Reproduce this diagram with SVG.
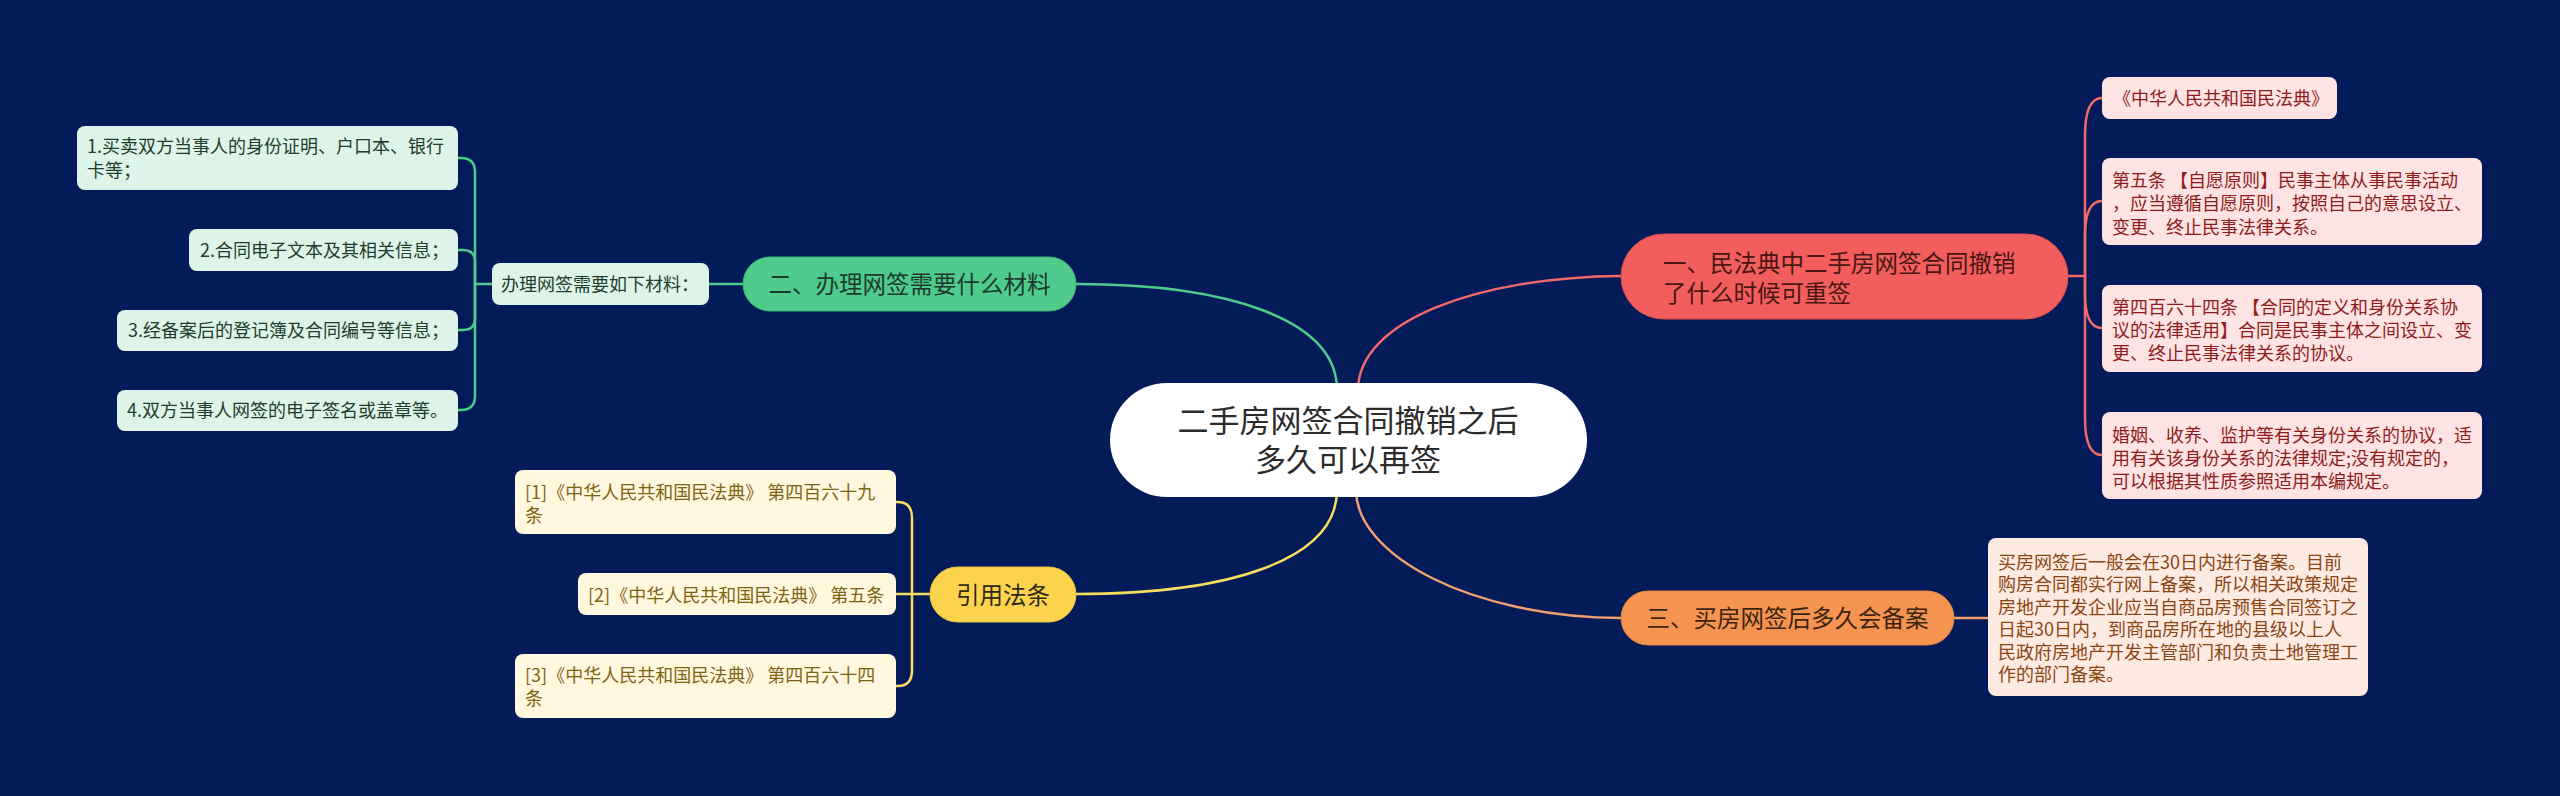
<svg xmlns="http://www.w3.org/2000/svg" width="2560" height="796" viewBox="0 0 2560 796">
<style>
text{font-family:"Noto Sans CJK SC","Noto Sans",sans-serif;}
.lf{font-size:18px;}
.br{font-size:23.5px;}
.c{fill:none;stroke-width:2.5;}
.cg{stroke:#4fcb8b;}
.cr{stroke:#f2696a;}
.co{stroke:#f0a070;}
.cy{stroke:#f7dc5f;}
.gl{fill:#dcf5e8;}
.gt{fill:#1f3d2e;}
.rl{fill:#fde3e3;}
.rt{fill:#8e1c1c;}
.ol{fill:#fdebe1;}
.ot{fill:#8b4513;}
.yl{fill:#fff7de;}
.yt{fill:#7d6414;}
</style>
<rect width="2560" height="796" fill="#031c59"/>
<g id="connectors">
<path class="c cg" d="M1076,284 C1230,284 1337,320 1337,390"/>
<path class="c cr" d="M1358,390 C1358,320 1480,277 1621,276"/>
<path class="c cy" d="M1337,490 C1337,560 1230,594 1076,594"/>
<path class="c co" d="M1356,490 C1356,555 1470,617 1621,618"/>
<path class="c cg" d="M743,284 H709"/>
<path class="c cg" d="M492,284 H475 V172 Q475,158 461,158 H458"/>
<path class="c cg" d="M475,284 V262 Q475,250 463,250 H458"/>
<path class="c cg" d="M475,284 V318 Q475,330 463,330 H458"/>
<path class="c cg" d="M475,284 V396 Q475,410 461,410 H458"/>
<path class="c cr" d="M2068,276 H2085 V136 Q2085,98 2102,98"/>
<path class="c cr" d="M2085,276 V236 Q2085,201 2102,201"/>
<path class="c cr" d="M2085,276 V294 Q2085,328 2102,328"/>
<path class="c cr" d="M2085,276 V418 Q2085,455 2102,455"/>
<path class="c co" d="M1954,618 H1988"/>
<path class="c cy" d="M930,594 H896"/>
<path class="c cy" d="M912,594 V518 Q912,502 898,502 H896"/>
<path class="c cy" d="M912,594 V670 Q912,686 898,686 H896"/>
</g>
<g id="center">
<rect x="1110" y="383" width="477" height="114" rx="57" fill="#ffffff"/>
<text font-size="31" fill="#2b2b2b" text-anchor="middle"><tspan x="1348" y="432">二手房网签合同撤销之后</tspan><tspan x="1348" y="471">多久可以再签</tspan></text>
</g>
<g id="n-green">
<rect x="743" y="257" width="333" height="54" rx="27" fill="#4fcb8b" stroke="#3db879" stroke-width="1"/>
<text class="br" x="909.5" y="293" fill="#1d3a2b" text-anchor="middle">二、办理网签需要什么材料</text>
</g>
<g id="g-mid">
<rect class="gl" x="492" y="263" width="217" height="42" rx="8"/>
<text class="lf gt" x="501" y="290.5">办理网签需要如下材料：</text>
</g>
<g id="g1">
<rect class="gl" x="77" y="126" width="381" height="64" rx="8"/>
<text class="lf gt" x="87" y="153">1.买卖双方当事人的身份证明、户口本、银行</text>
<text class="lf gt" x="87" y="177">卡等；</text>
</g>
<g id="g2">
<rect class="gl" x="189" y="229" width="269" height="42" rx="8"/>
<text class="lf gt" x="200" y="256.5">2.合同电子文本及其相关信息；</text>
</g>
<g id="g3">
<rect class="gl" x="117" y="310" width="341" height="41" rx="8"/>
<text class="lf gt" x="128" y="337">3.经备案后的登记簿及合同编号等信息；</text>
</g>
<g id="g4">
<rect class="gl" x="117" y="390" width="341" height="41" rx="8"/>
<text class="lf gt" x="127" y="417">4.双方当事人网签的电子签名或盖章等。</text>
</g>
<g id="n-red">
<rect x="1621" y="234" width="447" height="85" rx="42.5" fill="#f25d5d" stroke="#e04e4e" stroke-width="1"/>
<text class="br" x="1663" y="272" fill="#4a1515">一、民法典中二手房网签合同撤销</text>
<text class="br" x="1663" y="302" fill="#4a1515">了什么时候可重签</text>
</g>
<g id="r1">
<rect class="rl" x="2102" y="77" width="235" height="42" rx="8"/>
<text class="lf rt" x="2113" y="105">《中华人民共和国民法典》</text>
</g>
<g id="r2">
<rect class="rl" x="2102" y="158" width="380" height="87" rx="8"/>
<text class="lf rt" x="2112" y="187">第五条 【自愿原则】民事主体从事民事活动</text>
<text class="lf rt" x="2112" y="210">，应当遵循自愿原则，按照自己的意思设立、</text>
<text class="lf rt" x="2112" y="233.5">变更、终止民事法律关系。</text>
</g>
<g id="r3">
<rect class="rl" x="2102" y="285" width="380" height="87" rx="8"/>
<text class="lf rt" x="2112" y="313.5">第四百六十四条 【合同的定义和身份关系协</text>
<text class="lf rt" x="2112" y="337">议的法律适用】合同是民事主体之间设立、变</text>
<text class="lf rt" x="2112" y="360">更、终止民事法律关系的协议。</text>
</g>
<g id="r4">
<rect class="rl" x="2102" y="412" width="380" height="87" rx="8"/>
<text class="lf rt" x="2112" y="442">婚姻、收养、监护等有关身份关系的协议，适</text>
<text class="lf rt" x="2112" y="465">用有关该身份关系的法律规定;没有规定的，</text>
<text class="lf rt" x="2112" y="487.5">可以根据其性质参照适用本编规定。</text>
</g>
<g id="n-orange">
<rect x="1621" y="591" width="333" height="54" rx="27" fill="#f59450" stroke="#e5833f" stroke-width="1"/>
<text class="br" x="1787.5" y="627" fill="#3b2410" text-anchor="middle">三、买房网签后多久会备案</text>
</g>
<g id="o1">
<rect class="ol" x="1988" y="538" width="380" height="158" rx="8"/>
<text class="lf ot" x="1998" y="568.5">买房网签后一般会在30日内进行备案。目前</text>
<text class="lf ot" x="1998" y="591">购房合同都实行网上备案，所以相关政策规定</text>
<text class="lf ot" x="1998" y="613.5">房地产开发企业应当自商品房预售合同签订之</text>
<text class="lf ot" x="1998" y="636">日起30日内，到商品房所在地的县级以上人</text>
<text class="lf ot" x="1998" y="658.5">民政府房地产开发主管部门和负责土地管理工</text>
<text class="lf ot" x="1998" y="681">作的部门备案。</text>
</g>
<g id="n-yellow">
<rect x="930" y="567" width="146" height="55" rx="27.5" fill="#fbd34d" stroke="#ebc23c" stroke-width="1"/>
<text class="br" x="1003" y="603.5" fill="#2e2a18" text-anchor="middle">引用法条</text>
</g>
<g id="y1">
<rect class="yl" x="515" y="470" width="381" height="64" rx="8"/>
<text class="lf yt" x="525" y="499">[1]《中华人民共和国民法典》 第四百六十九</text>
<text class="lf yt" x="525" y="522">条</text>
</g>
<g id="y2">
<rect class="yl" x="578" y="573" width="318" height="42" rx="8"/>
<text class="lf yt" x="588" y="602">[2]《中华人民共和国民法典》 第五条</text>
</g>
<g id="y3">
<rect class="yl" x="515" y="654" width="381" height="64" rx="8"/>
<text class="lf yt" x="525" y="682">[3]《中华人民共和国民法典》 第四百六十四</text>
<text class="lf yt" x="525" y="705">条</text>
</g>
</svg>
